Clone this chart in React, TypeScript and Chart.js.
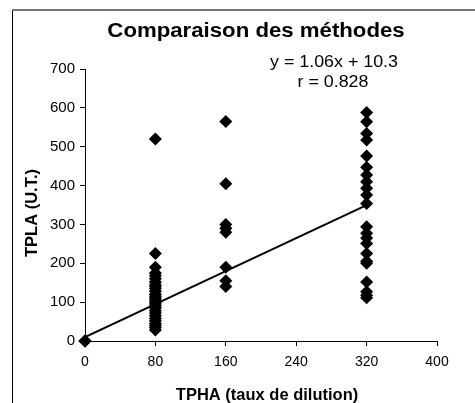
import React, { useEffect, useRef } from "react";
import { Chart, registerables } from "chart.js";

Chart.register(...registerables);

const chartTitle = "Comparaison des méthodes";
const xAxisTitle = "TPHA (taux de dilution)";
const yAxisTitle = "TPLA (U.T.)";
const equationText = "y = 1.06x + 10.3";
const rText = "r = 0.828";

const groupX = [0, 80, 160, 320];
const tpla0 = [0, 0, 0];
const tpla80 = [520, 225, 190, 175, 168, 160, 152, 145, 140, 135, 128, 120, 115, 110, 105, 100, 95, 90, 85, 78, 72, 65, 58, 52, 45, 40, 35, 28];
const tpla160 = [565, 405, 300, 290, 280, 190, 155, 140];
const tpla320 = [588, 564, 534, 517, 476, 447, 427, 410, 393, 376, 354, 294, 277, 265, 251, 225, 205, 200, 152, 127, 118, 111];

const trendX = [0, 320];
const trendY = [10.3, 349.5];

const xTicks = [0, 80, 160, 240, 320, 400];
const yTicks = [0, 100, 200, 300, 400, 500, 600, 700];

const groups = [tpla0, tpla80, tpla160, tpla320];

const FAM = "'Liberation Sans', Arial, sans-serif";

export default function App() {
  const ref = useRef<HTMLCanvasElement>(null);
  useEffect(() => {
    document.body.style.margin = "0";
    const points: { x: number; y: number }[] = [];
    groups.forEach((g, i) => g.forEach((v) => points.push({ x: groupX[i], y: v })));
    const trend = trendX.map((x, i) => ({ x, y: trendY[i] }));

    const stretched = (ctx: any, text: string, x: number, y: number, sx: number) => {
      ctx.save();
      ctx.translate(x, y);
      ctx.scale(sx, 1);
      ctx.fillText(text, 0, 0);
      ctx.restore();
    };

    const overlay = {
      id: "overlay",
      beforeDraw(chart: any) {
        const ctx = chart.ctx;
        ctx.save();
        ctx.fillStyle = "#fff";
        ctx.fillRect(0, 0, chart.width, chart.height);
        ctx.strokeStyle = "#000";
        ctx.lineWidth = 1;
        ctx.beginPath();
        ctx.moveTo(12.5, 403);
        ctx.lineTo(12.5, 10);
        ctx.stroke();
        ctx.strokeStyle = "#777";
        ctx.lineWidth = 2;
        ctx.beginPath();
        ctx.moveTo(12, 10);
        ctx.lineTo(475, 10);
        ctx.stroke();
        ctx.restore();
      },
      afterDraw(chart: any) {
        const ctx = chart.ctx;
        ctx.save();
        ctx.fillStyle = "#000";
        ctx.textAlign = "center";
        ctx.textBaseline = "middle";
        ctx.font = "bold 20px " + FAM;
        stretched(ctx, chartTitle, 256, 31, 1.11);
        ctx.font = "17px " + FAM;
        stretched(ctx, equationText, 334, 62, 1.05);
        stretched(ctx, rText, 333, 82, 1.05);
        ctx.font = "bold 16.5px " + FAM;
        ctx.fillText(xAxisTitle, 267, 395);
        ctx.translate(32, 213);
        ctx.rotate(-Math.PI / 2);
        ctx.fillText(yAxisTitle, 0, 0);
        ctx.restore();
      },
    };

    const chart = new Chart(ref.current!, {
      type: "scatter",
      data: {
        datasets: [
          {
            type: "line",
            data: trend,
            borderColor: "#000",
            borderWidth: 2,
            pointRadius: 0,
            fill: false,
            showLine: true,
          } as any,
          {
            data: points,
            pointStyle: "rectRot",
            pointRadius: 6.5,
            backgroundColor: "#000",
            borderColor: "#000",
            borderWidth: 0,
            clip: false as any,
          },
        ],
      },
      options: {
        animation: false,
        responsive: false,
        layout: { padding: { left: 0, right: 38, top: 69, bottom: 0 } },
        plugins: { legend: { display: false }, tooltip: { enabled: false }, title: { display: false } },
        scales: {
          x: {
            type: "linear",
            min: 0,
            max: 400,
            afterBuildTicks: (s: any) => { s.ticks = xTicks.map((v) => ({ value: v })); },
            afterFit: (s: any) => { s.height = 62; },
            ticks: { color: "#000", font: { family: FAM, size: 14 }, padding: 8, maxRotation: 0 },
            grid: { drawOnChartArea: false, drawTicks: true, tickLength: 5, color: "#000", tickColor: "#000" },
            border: { display: true, color: "#000", width: 1 },
          },
          y: {
            type: "linear",
            min: 0,
            max: 700,
            afterBuildTicks: (s: any) => { s.ticks = yTicks.map((v) => ({ value: v })); },
            afterFit: (s: any) => { s.width = 85; },
            ticks: { color: "#000", font: { family: FAM, size: 15 }, padding: 5 },
            grid: { drawOnChartArea: false, drawTicks: true, tickLength: 5, color: "#000", tickColor: "#000" },
            border: { display: true, color: "#000", width: 1 },
          },
        },
      },
      plugins: [overlay],
    });
    return () => chart.destroy();
  }, []);
  return (
    <div style={{ width: 475, height: 403 }}>
      <canvas ref={ref} width={475} height={403} />
    </div>
  );
}
